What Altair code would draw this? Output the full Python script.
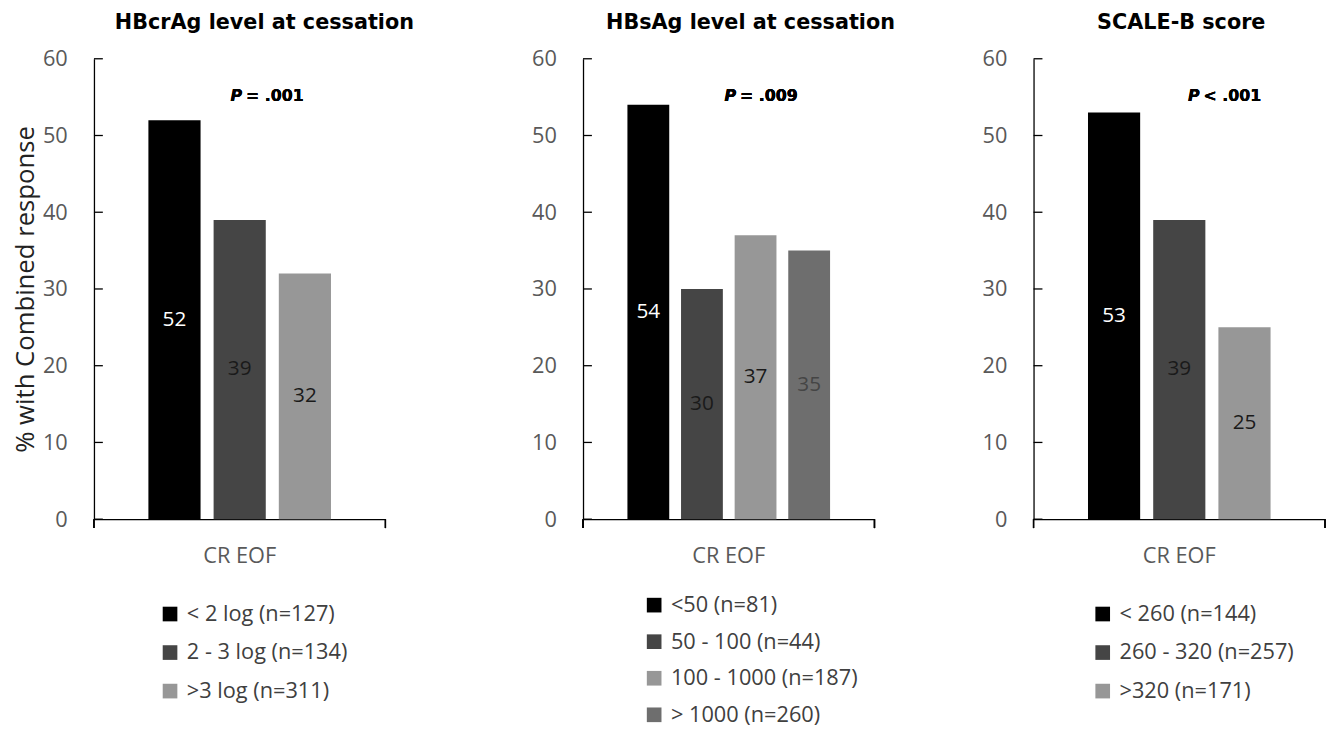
import altair as alt
import pandas as pd

# ---------------- data ----------------
category = "CR EOF"
y_ticks = [0, 10, 20, 30, 40, 50, 60]

hbcrag_groups = ["< 2 log (n=127)", "2 - 3 log (n=134)", ">3 log (n=311)"]
hbcrag_values = [52, 39, 32]

hbsag_groups = ["<50 (n=81)", "50 - 100 (n=44)", "100 - 1000 (n=187)", "> 1000 (n=260)"]
hbsag_values = [54, 30, 37, 35]

scaleb_groups = ["< 260 (n=144)", "260 - 320 (n=257)", ">320 (n=171)"]
scaleb_values = [53, 39, 25]

titles = ["HBcrAg level at cessation", "HBsAg level at cessation", "SCALE-B score"]
p_rest = ["= .001", "= .009", "< .001"]

# ---------------- styles ----------------
FONT = "Open Sans"
BOLD = "DejaVu Sans"
colors3 = ["#000000", "#454545", "#979797"]
colors4 = ["#000000", "#454545", "#979797", "#6e6e6e"]
lab3 = ["#ffffff", "#1a1a1a", "#1a1a1a"]
lab4 = ["#ffffff", "#1a1a1a", "#1a1a1a", "#454545"]

W, H = 295, 466


def panel(groups, values, colors, lcolors, title, title_dx, prest, p_x,
          x_pad_outer, off_pad_inner, legend_x, legend_y, row_pad,
          y_title=None, spacer=None):
    df = pd.DataFrame({
        "cat": [category] * len(groups),
        "group": groups,
        "value": values,
        "lcol": lcolors,
    })
    base = alt.Chart(df)
    x = alt.X("cat:N", title=None,
              scale=alt.Scale(paddingInner=0, paddingOuter=x_pad_outer),
              axis=alt.Axis(ticks=False, labelAngle=0, labelPadding=27,
                            labelFontSize=22, labelFont=FONT, labelColor="#595959",
                            domainColor="#000000", domainWidth=1.3))
    xo = alt.XOffset("group:N", sort=groups,
                     scale=alt.Scale(paddingInner=off_pad_inner, paddingOuter=0.1))
    yaxis = alt.Axis(values=y_ticks, ticks=False, grid=False, labelPadding=27,
                     labelFontSize=22, labelFont=FONT, labelColor="#595959",
                     domainColor="#000000", domainWidth=1.3,
                     title=y_title, titleFont=FONT, titleFontSize=26,
                     titleFontWeight="normal", titleColor="#222222", titlePadding=4)
    y = alt.Y("value:Q", scale=alt.Scale(domain=[0, 60]), axis=yaxis)

    bars = base.mark_bar().encode(
        x=x, xOffset=xo, y=y,
        color=alt.Color("group:N", sort=groups,
                        scale=alt.Scale(domain=groups, range=colors),
                        legend=alt.Legend(orient="none", legendX=legend_x, legendY=legend_y,
                                          direction="vertical", title=None,
                                          symbolType="square", symbolSize=220,
                                          symbolStrokeWidth=0, labelFontSize=22,
                                          labelFont=FONT, labelColor="#404040",
                                          rowPadding=row_pad, labelOffset=6,
                                          labelLimit=400)),
    )
    labels = base.transform_calculate(half="datum.value / 2").mark_text(
        fontSize=21, font=FONT, baseline="middle").encode(
        x=x, xOffset=xo, y=alt.Y("half:Q"),
        text=alt.Text("value:Q"),
        fill=alt.Fill("lcol:N", scale=None),
    )
    ticks = alt.Chart(pd.DataFrame({"t": y_ticks})).mark_rule(
        color="#000000", strokeWidth=1.3).encode(
        y=alt.Y("t:Q"), x=alt.value(0), x2=alt.value(9))
    end_l = alt.Chart(df).mark_rule(color="#000000", strokeWidth=1.3).encode(
        x=alt.value(0), y=alt.value(H), y2=alt.value(H + 9))
    end_r = alt.Chart(df).mark_rule(color="#000000", strokeWidth=1.3).encode(
        x=alt.value(W), y=alt.value(H), y2=alt.value(H + 9))
    p_main = alt.Chart(df).mark_text(
        text="P", font=BOLD, fontWeight="bold", fontStyle="italic", fontSize=16,
        align="right", baseline="middle").encode(x=alt.value(p_x), y=alt.value(38))
    p_txt = alt.Chart(df).mark_text(
        text=prest, font=BOLD, fontWeight="bold", fontSize=16,
        align="left", baseline="middle").encode(x=alt.value(p_x + 4), y=alt.value(38))
    layers = [bars, labels, ticks, end_l, end_r, p_main, p_txt]
    if spacer is not None:
        layers.append(alt.Chart(df).mark_rule(color="#ffffff").encode(
            x=alt.value(spacer), y=alt.value(0), y2=alt.value(1)))
    return alt.layer(*layers).properties(
        width=W, height=H,
        title=alt.TitleParams(title, font=BOLD, fontSize=21, fontWeight="bold",
                              color="#000000", dx=title_dx, offset=15, anchor="middle"),
    )


p1 = panel(hbcrag_groups, hbcrag_values, colors3, lab3, titles[0], 25, p_rest[0], 150,
           0.245, 0.2, 66, 551, 17, y_title="% with Combined response", spacer=W + 59)
p2 = panel(hbsag_groups, hbsag_values, colors4, lab4, titles[1], 22, p_rest[1], 155,
           0.183, 0.22, 61, 542, 15)
p3 = panel(scaleb_groups, scaleb_values, colors3, lab3, titles[2], 2, p_rest[2], 168,
           0.245, 0.2, 59, 551, 17)

chart = alt.hconcat(p1, p2, p3, spacing=87).resolve_scale(
    color="independent", x="independent", y="independent", xOffset="independent"
).properties(
    padding={"left": 4, "top": 0, "right": 0, "bottom": 0}
).configure_view(stroke=None)

chart.save("out.html", embed_options={"renderer": "svg", "actions": False})
